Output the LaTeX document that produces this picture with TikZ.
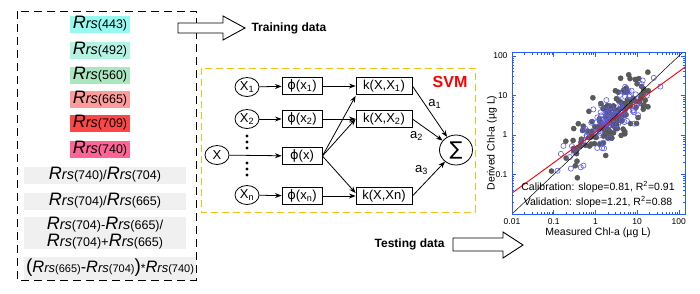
\documentclass[tikz,border=0pt]{standalone}
\usepackage{fontspec}
\setmainfont{Liberation Sans}
\newfontfamily\symfont{DejaVu Sans}
\usetikzlibrary{positioning, arrows.meta, shapes.geometric}

\definecolor{rrsA}{RGB}{150,250,240}
\definecolor{rrsB}{RGB}{180,242,226}
\definecolor{rrsC}{RGB}{170,230,190}
\definecolor{rrsD}{RGB}{255,155,155}
\definecolor{rrsE}{RGB}{255,70,70}
\definecolor{rrsF}{RGB}{255,100,150}
\definecolor{svmgold}{RGB}{250,190,20}
\definecolor{ptgray}{RGB}{90,90,90}
\definecolor{axblue}{RGB}{40,90,255}
\definecolor{ptblue}{RGB}{90,90,235}

\newcommand{\setfs}[1]{\fontsize{#1}{#1}\selectfont}
\newcommand{\rrs}[1]{{\setfs{18}\itshape R}{\setfs{14.5}\itshape rs}{\setfs{12.5}(#1)}}
\newcommand{\rrss}[1]{{\setfs{16.5}\itshape R}{\setfs{13}\itshape rs}{\setfs{11}(#1)}}

\begin{document}
\begin{tikzpicture}[
    x=1pt, y=-1pt,
    >=Stealth,
    every node/.style={font=\setfs{13}},
    band/.style={inner sep=0pt, minimum width=60pt, minimum height=17pt},
    ratio/.style={fill=gray!12, inner sep=0pt, minimum width=162pt, minimum height=17pt},
    inp/.style={ellipse, draw, line width=0.8pt, minimum width=24pt,
                minimum height=19pt, inner sep=0pt},
    feat/.style={rectangle, draw, line width=0.8pt, minimum width=40pt,
                 minimum height=17pt, inner sep=0pt},
    kern/.style={feat, minimum width=56pt},
    edge/.style={->, line width=0.8pt},
    bigarrow/.style={draw, fill=white, line width=0.9pt},
    tick/.style={axblue, line width=0.5pt},
]
\useasboundingbox (0,0) rectangle (700,293);

% Input features
\draw[dashed, dash pattern=on 8pt off 5pt, line width=0.9pt] (17,11) rectangle (196,280);
\node[band, fill=rrsA] (b443) at (100,24)  {\rrs{443}};
\node[band, fill=rrsB] (b492) at (100,50)  {\rrs{492}};
\node[band, fill=rrsC] (b560) at (100,75)  {\rrs{560}};
\node[band, fill=rrsD] (b665) at (100,99)  {\rrs{665}};
\node[band, fill=rrsE] (b709) at (100,123) {\rrs{709}};
\node[band, fill=rrsF] (b740) at (100,149) {\rrs{740}};
\node[ratio] (r1) at (105,175) {\rrs{740}/\rrs{704}};
\node[ratio] (r2) at (105,201) {\rrs{704}/\rrs{665}};
\node[ratio, minimum height=28pt, align=center, font=\fontsize{13}{17}\selectfont] (r3) at (105,233)
    {\rrs{704}-\rrs{665}/\\\rrs{704}+\rrs{665}};
\node[ratio, minimum width=172pt, minimum height=23pt] (r4) at (110,268)
    {{\setfs{19}(}\rrss{665}{\setfs{16}-}\rrss{704}{\setfs{19})}{\setfs{12}*}\rrss{740}};

% Training / testing arrows
\draw[bigarrow] (178,23) -- (223,23) -- (223,16) -- (245,28) -- (223,40)
    -- (223,33) -- (178,33) -- cycle;
\node[anchor=west, font=\setfs{12}\bfseries] (train) at (248,28) {Training data};
\draw[bigarrow] (453,238) -- (503,238) -- (503,232) -- (523,245) -- (503,258)
    -- (503,251) -- (453,251) -- cycle;
\node[anchor=east, font=\setfs{12}\bfseries] (test) at (448,244) {Testing data};

% SVM
\draw[svmgold, dashed, dash pattern=on 7pt off 4pt, line width=0.9pt] (201,68) rectangle (475,212);
\node[red, font=\setfs{16}\bfseries] (svm) at (450,82) {SVM};

\node[inp] (X1) at (247,87)  {X\textsubscript{1}};
\node[inp] (X2) at (247,119) {X\textsubscript{2}};
\node[inp] (X)  at (217,155) {X};
\node[inp] (Xn) at (247,195) {X\textsubscript{n}};
\foreach \y in {136,142,148,163,169,175}
  \fill (247,\y) circle (1.6pt);

\node[feat] (p1) at (302,86)  {{\symfont ϕ}(x\textsubscript{1})};
\node[feat] (p2) at (302,119) {{\symfont ϕ}(x\textsubscript{2})};
\node[feat] (px) at (302,156) {{\symfont ϕ}(x)};
\node[feat] (pn) at (302,196) {{\symfont ϕ}(x\textsubscript{n})};

\node[kern] (k1) at (384,86)  {k(X,X\textsubscript{1})};
\node[kern] (k2) at (384,119) {k(X,X\textsubscript{2})};
\node[kern] (kn) at (384,196) {k(X,Xn)};

\node[inp, minimum width=33pt, minimum height=30pt] (S) at (456,150) {{\symfont\setfs{19}∑}};

\draw[edge] (X1) -- (p1);
\draw[edge] (X2) -- (p2);
\draw[edge] (X)  -- (px);
\draw[edge] (Xn) -- (pn);
\draw[edge] (p1) -- (k1);
\draw[edge] (p2) -- (k2);
\draw[edge] (pn) -- (kn);
\draw[edge] (px.east) -- ([yshift=-1pt]k1.south west);
\draw[edge] (px.east) -- (k2.west);
\draw[edge] (px.east) -- ([yshift=3pt]kn.west);
\draw[edge] (k1.east) -- node[pos=0.35, right] {a\textsubscript{1}} (S);
\draw[edge] (k2.east) -- node[pos=0.45, below left=-1pt] {a\textsubscript{2}} (S);
\draw[edge] (kn.east) -- node[pos=0.55, above left=-2pt] {a\textsubscript{3}} (S);

% Scatter plot (log-log)
\begin{scope}[shift={(595.4,135)}, x=41.7pt, y=39.5pt]
  \begin{scope}
    \clip (-2,-2) rectangle (2.15,2.08);
    \foreach \d in {-2,...,2}
      \foreach \k in {1,...,9}{
        \pgfmathsetmacro\t{\d+log10(\k)}
        \pgfmathsetmacro\tl{\k==1 ? 4 : 2}
        \draw[tick] (\t,-2) -- ++(0,\tl pt);
        \draw[tick] (\t,2.08) -- ++(0,-\tl pt);
        \draw[tick] (-2,\t) -- ++(\tl pt,0);
        \draw[tick] (2.15,\t) -- ++(-\tl pt,0);
      }
    \pgfmathsetseed{17}
    \foreach \i in {1,...,150}{
      \pgfmathsetmacro\lx{0.35+1.05*(rnd+rnd+rnd-1.5)}
      \pgfmathsetmacro\ly{0.08+0.8*\lx+0.65*(rnd+rnd+rnd-1.5)}
      \fill[ptgray, draw=black!70, line width=0.3pt] (\lx,\ly) circle (2.6pt);
    }
    \pgfmathsetseed{5}
    \foreach \i in {1,...,95}{
      \pgfmathsetmacro\lx{0.35+1.0*(rnd+rnd+rnd-1.5)}
      \pgfmathsetmacro\ly{0.08+0.8*\lx+0.65*(rnd+rnd+rnd-1.5)}
      \draw[ptblue, line width=0.6pt] (\lx,\ly) circle (2.6pt);
    }
    \draw[black, line width=0.5pt] (-2,-2) -- (2.2,2.2);
    \draw[red, line width=0.9pt] (-2,-1.47) -- (2.15,1.72);
  \end{scope}
  \draw[axblue, line width=0.9pt] (-2,-2) rectangle (2.15,2.08);
  \foreach \v/\lab in {-2/0.01, -1/0.1, 0/1, 1/10, 2/100}
    \node[below=1pt, font=\setfs{8.5}] (xt\lab) at (\v,-2) {\lab};
  \foreach \v/\lab in {-1/0.1, 0/1, 1/10, 2/100}
    \node[left=1pt, font=\setfs{8.5}] (yt\lab) at (-2,\v) {\lab};
\end{scope}
\node[font=\setfs{10.5}] (calib) at (598,187) {Calibration: slope=0.81, R\textsuperscript{2}=0.91};
\node[font=\setfs{10.5}] (valid) at (598,202) {Validation: slope=1.21, R\textsuperscript{2}=0.88};
\node[font=\setfs{10.5}] (xlab) at (598,233) {Measured Chl-a (µg L)};
\node[font=\setfs{10.5}, rotate=90] (ylab) at (492,143) {Derived Chl-a (µg L)};

\end{tikzpicture}
\end{document}
